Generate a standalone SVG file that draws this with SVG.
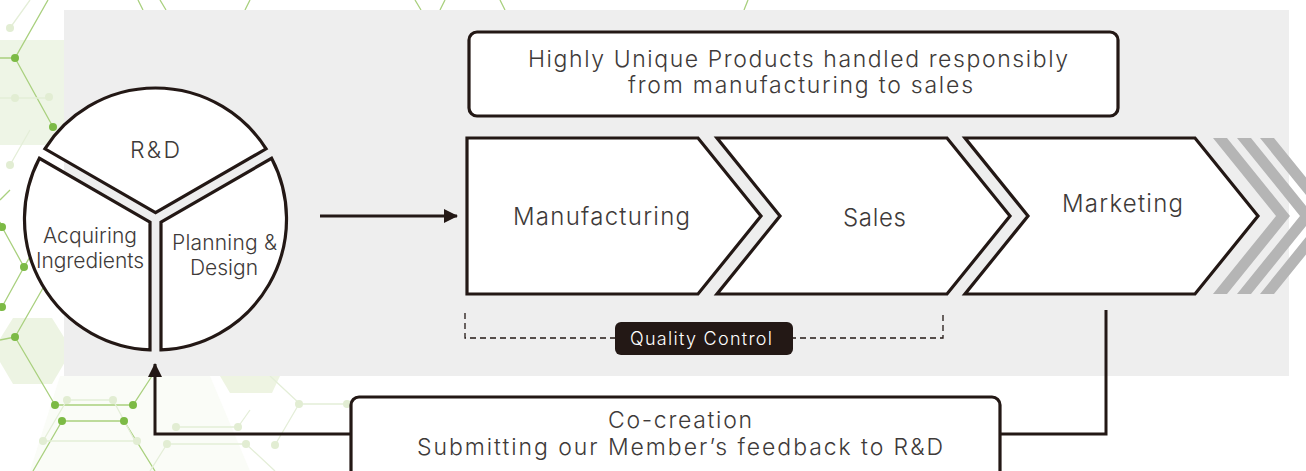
<svg xmlns="http://www.w3.org/2000/svg" width="1306" height="471" viewBox="0 0 1306 471">
<style>
.t{font-family:Inter,"Liberation Sans",sans-serif;font-weight:300;fill:#3e3a39;text-anchor:middle}
.node{fill:#fff;stroke:#231815;stroke-width:3.2;stroke-linejoin:miter}
.conn{fill:none;stroke:#231815;stroke-width:3}
.gl{stroke:#a9d07e;stroke-width:1.3;fill:none}
.pl{stroke:#e4eed8;stroke-width:1.3;fill:none}
.gd{fill:#7cba45}
.pd{fill:#e2edd3}
</style>
<defs>
<marker id="ah" markerUnits="userSpaceOnUse" markerWidth="14" markerHeight="14" refX="13" refY="7" orient="auto">
<path d="M0,0 L14,7 L0,14 Z" fill="#231815"/>
</marker>
</defs>
<rect width="1306" height="471" fill="#fff"/>
<g id="pattern">
<polygon points="-20,40 80,40 110,92 80,145 -20,145 -50,92" fill="#eef5e6"/>
<polygon points="13,384 52,384 72,350 52,318 13,318 -7,350" fill="#edf4e3"/>
<polygon points="60,376 210,376 250,471 30,471" fill="#fafcf7"/>
<polygon points="220,376 280,376 272,393 230,393" fill="#eef4e2"/>
<path class="gl" d="M0,58 H15 L48,0 M15,58 L53,127 M0,222 L2,227 L24,267 L2,307 M24,267 L48,226 M15,337 L55,405 M15,337 L43,288 M55,405 H133 L152,376 M62,421 H124 L155,471 M62,421 L33,471 M0,340 L15,337"/>
<path class="gl" d="M138,0 L143,10 M160,0 L166,10 M250,0 L245,10 M415,0 L421,10 M440,10 L445,0 M500,0 L505,10 M748,0 L744,10 M0,200 L10,190"/>
<path class="pl" d="M67,400 H113 M43,441 H137 M176,427 H238 M167,444 H246 M299,404 H347 M275,445 L299,404 M246,444 L275,471 M238,427 L250,410 M167,444 L150,471 M10,165 L30,130 M0,98 H49 M10,28 L30,0 M113,400 L135,441 M43,441 L67,400 M270,376 L300,404"/>
<circle class="gd" cx="15" cy="58" r="4"/>
<circle class="gd" cx="53" cy="127" r="4"/>
<circle class="gd" cx="2" cy="227" r="4"/>
<circle class="gd" cx="24" cy="267" r="4"/>
<circle class="gd" cx="2" cy="307" r="4"/>
<circle class="gd" cx="15" cy="337" r="4"/>
<circle class="gd" cx="55" cy="405" r="4"/>
<circle class="gd" cx="133" cy="405" r="4"/>
<circle class="gd" cx="62" cy="421" r="4"/>
<circle class="gd" cx="124" cy="421" r="4"/>
<circle class="pd" cx="10" cy="28" r="4"/>
<circle class="pd" cx="15" cy="98" r="4"/>
<circle class="pd" cx="49" cy="97" r="4"/>
<circle class="pd" cx="10" cy="165" r="4"/>
<circle class="pd" cx="67" cy="400" r="4"/>
<circle class="pd" cx="113" cy="400" r="4"/>
<circle class="pd" cx="43" cy="441" r="4"/>
<circle class="pd" cx="137" cy="441" r="4"/>
<circle class="pd" cx="176" cy="427" r="4"/>
<circle class="pd" cx="238" cy="427" r="4"/>
<circle class="pd" cx="167" cy="444" r="4"/>
<circle class="pd" cx="246" cy="444" r="4"/>
<circle class="pd" cx="275" cy="445" r="4"/>
<circle class="pd" cx="299" cy="404" r="4"/>
<circle class="pd" cx="347" cy="404" r="4"/>
</g>
<rect id="panel" x="64" y="10" width="1225" height="366" fill="#eeeeee"/>
<g id="stripes" fill="#b5b5b5">
<path d="M1213,138 H1227 L1290,216 L1227,294 H1213 L1276,216 Z"/>
<path d="M1237,138 H1251 L1314,216 L1251,294 H1237 L1300,216 Z"/>
<path d="M1260,138 H1274 L1337,216 L1274,294 H1260 L1323,216 Z"/>
</g>
<g id="connectors">
<path class="conn" d="M320,216 H457" marker-end="url(#ah)"/>
<path class="conn" d="M1106,310 V434 H155 V364" marker-end="url(#ah)"/>
<path d="M465,313 V338 H943 V313" fill="none" stroke="#231815" stroke-width="1.3" stroke-dasharray="6 4"/>
</g>
<g id="rd">
<path class="node" d="M155.5,212.6 L44.9,148.8 A131,131 0 0 1 266.1,148.8 Z"/>
<text class="t" x="155" y="158" font-size="23" textLength="50" lengthAdjust="spacing">R&amp;D</text>
</g>
<g id="acquiring">
<path class="node" d="M150,222.2 L150,349.9 A131,131 0 0 1 39.4,158.3 Z"/>
<text class="t" x="90" y="243" font-size="21" textLength="94" lengthAdjust="spacing">Acquiring</text>
<text class="t" x="90" y="268" font-size="21" textLength="108" lengthAdjust="spacing">Ingredients</text>
</g>
<g id="planning">
<path class="node" d="M161,222.2 L271.6,158.3 A131,131 0 0 1 161,349.9 Z"/>
<text class="t" x="224.5" y="250" font-size="21" textLength="105" lengthAdjust="spacing">Planning &amp;</text>
<text class="t" x="224" y="275" font-size="21" textLength="68" lengthAdjust="spacing">Design</text>
</g>
<g id="headline">
<rect class="node" x="469" y="32" width="649" height="84" rx="8"/>
<text class="t" x="798" y="67" font-size="23" textLength="540" lengthAdjust="spacing">Highly Unique Products handled responsibly</text>
<text class="t" x="800.5" y="93" font-size="23" textLength="345" lengthAdjust="spacing">from manufacturing to sales</text>
</g>
<g id="manufacturing">
<path class="node" d="M467,138 H698 L761,216 L698,294 H467 Z"/>
<text class="t" x="601.5" y="225" font-size="24" textLength="177" lengthAdjust="spacing">Manufacturing</text>
</g>
<g id="sales">
<path class="node" d="M717,138 H947 L1010,216 L947,294 H717 L780,216 Z"/>
<text class="t" x="874.5" y="226" font-size="24" textLength="63" lengthAdjust="spacing">Sales</text>
</g>
<g id="marketing">
<path class="node" d="M965,138 H1195 L1258,216 L1195,294 H965 L1028,216 Z"/>
<text class="t" x="1122.5" y="212" font-size="24" textLength="121" lengthAdjust="spacing">Marketing</text>
</g>
<g id="quality">
<rect x="615" y="322" width="178" height="33" rx="6" fill="#231815"/>
<text class="t" x="701" y="345" font-size="18" textLength="142" lengthAdjust="spacing" style="fill:#fff">Quality Control</text>
</g>
<g id="cocreation">
<rect class="node" x="351" y="397" width="649" height="90" rx="8"/>
<text class="t" x="680" y="428" font-size="23" textLength="144" lengthAdjust="spacing">Co-creation</text>
<text class="t" x="680" y="455" font-size="23" textLength="526" lengthAdjust="spacing">Submitting our Member’s feedback to R&amp;D</text>
</g>
</svg>
